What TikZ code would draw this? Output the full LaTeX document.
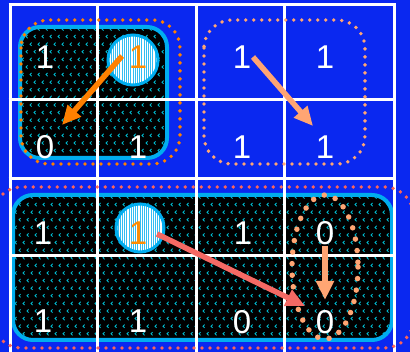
\documentclass[tikz,border=0pt]{standalone}
\usepackage{fontspec}
\setmainfont{Liberation Sans}
\usetikzlibrary{arrows.meta}
\definecolor{bgblue}{RGB}{10,40,240}
\definecolor{chevcol}{RGB}{0,185,205}
\definecolor{digorange}{RGB}{255,140,0}
\definecolor{darkorg}{RGB}{255,128,0}
\definecolor{lightorg}{RGB}{255,165,115}
\definecolor{salmon}{RGB}{250,100,90}
\definecolor{coral}{RGB}{245,105,100}
\begin{document}
\begin{tikzpicture}[x=1pt,y=-1pt,
  digit/.style={text=white,font=\fontsize{33}{33}\selectfont,inner sep=0pt},
  odigit/.style={digit,text=digorange},
  chev/.style={chevcol,line width=0.9pt},
  gridline/.style={white,line width=3pt},
  cyanborder/.style={cyan,line width=4pt,rounded corners=20pt},
  dotline/.style={line width=3.8pt,line cap=round,dash pattern=on 0pt off 8pt},
  bigdot/.style={line width=5.5pt,line cap=round,dash pattern=on 0pt off 11.6pt},
  arr/.style={line width=5.5pt,-{Triangle[length=19pt,width=17pt]}}]
\useasboundingbox (0,0) rectangle (410,352);
\clip (0,0) rectangle (410,352);
\fill[bgblue] (0,0) rectangle (410,352);
% black patterned boxes
\fill[black,rounded corners=20pt] (20,27) rectangle (167,158);
\fill[black,rounded corners=20pt] (13,195) rectangle (392,340);
\begin{scope}
\clip[rounded corners=20pt] (20,27) rectangle (167,158);
\foreach \r in {0,...,17} \foreach \c in {0,...,19}
  \draw[chev] ({22+\c*8+mod(\r,2)*4},{29+\r*7.6}) ++(1.6,-1.6) -- ++(-1.6,1.6) -- ++(1.6,1.6);
\end{scope}
\begin{scope}
\clip[rounded corners=20pt] (13,195) rectangle (392,340);
\foreach \r in {0,...,19} \foreach \c in {0,...,47}
  \draw[chev] ({15+\c*8+mod(\r,2)*4},{197+\r*7.6}) ++(1.6,-1.6) -- ++(-1.6,1.6) -- ++(1.6,1.6);
\end{scope}
\draw[cyanborder] (20,27) rectangle (167,158);
\draw[cyanborder] (13,195) rectangle (392,340);
% grid
\foreach \x in {10,97,196,284,394} \draw[gridline] (\x,3.5) -- (\x,360);
\foreach \y in {5,100,179,256} \draw[gridline] (8.5,\y) -- (395.5,\y);
% striped circles
\foreach \cx/\cy/\rr in {133/60/25, 140/228/24} {
  \fill[white] (\cx,\cy) circle (\rr);
  \begin{scope}
    \clip (\cx,\cy) circle (\rr);
    \foreach \k in {-14,...,14} \draw[cyan!80!white,line width=1pt] ({\cx+\k*2.2},{\cy-30}) -- ({\cx+\k*2.2},{\cy+30});
  \end{scope}
  \draw[cyan,line width=3pt] (\cx,\cy) circle (\rr);
}
% digits
\node[digit]  (a1) at (45,57) {1};
\node[odigit] (a2) at (138,57) {1};
\node[digit]  (a3) at (45,147) {0};
\node[digit]  (a4) at (138,147) {1};
\node[digit]  (b1) at (242,57) {1};
\node[digit]  (b2) at (325,57) {1};
\node[digit]  (b3) at (242,147) {1};
\node[digit]  (b4) at (325,147) {1};
\node[digit]  (c1) at (43,233) {1};
\node[odigit] (c2) at (138,233) {1};
\node[digit]  (c3) at (243,233) {1};
\node[digit]  (c4) at (325,233) {0};
\node[digit]  (c5) at (43,321) {1};
\node[digit]  (c6) at (138,321) {1};
\node[digit]  (c7) at (242,322) {0};
\node[digit]  (c8) at (325,322) {0};
% dotted groupings
\draw[darkorg,dotline,rounded corners=28pt] (21,20) rectangle (180,164);
\draw[lightorg,dotline,rounded corners=28pt] (204,20) rectangle (365,164);
\draw[salmon,dotline,rounded corners=30pt] (-8,187) rectangle (414,348);
\draw[lightorg,bigdot] (325,267) ellipse [x radius=33, y radius=72];
% arrows
\coordinate (s1) at (122,56);  \coordinate (e1) at (62,125);
\coordinate (s2) at (253,57);  \coordinate (e2) at (313,126);
\coordinate (s3) at (157,234); \coordinate (e3) at (305,306);
\coordinate (s4) at (325,246); \coordinate (e4) at (325,300);
\draw[arr,darkorg] (s1) -- (e1);
\draw[arr,lightorg] (s2) -- (e2);
\draw[arr,coral] (s3) -- (e3);
\draw[arr,lightorg] (s4) -- (e4);
\end{tikzpicture}
\end{document}
